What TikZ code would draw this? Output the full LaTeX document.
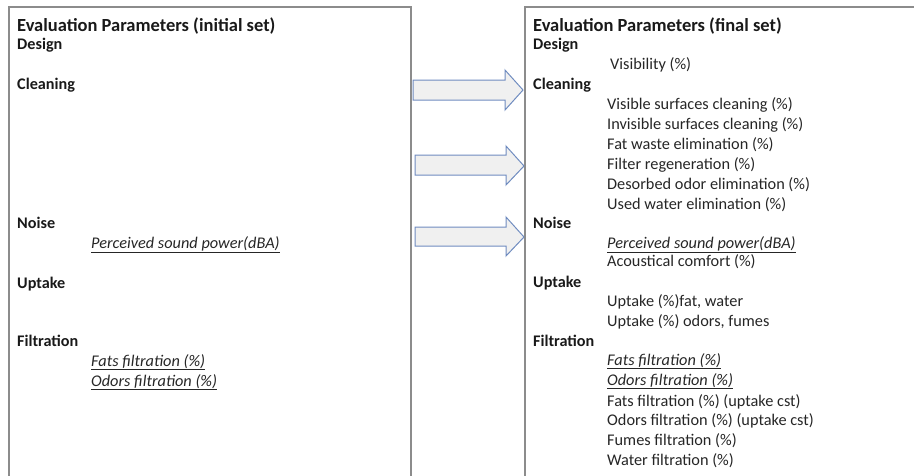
\documentclass[tikz,border=0pt]{standalone}
\usepackage{fontspec}
\setmainfont{Carlito}
\begin{document}
\begin{tikzpicture}[x=1pt,y=-1pt,
  framebox/.style={draw=black!45,line width=1.6pt},
  blockarrow/.style={draw=arrowblue,fill=black!6,line width=1pt,line join=miter},
  titletext/.style={anchor=base west,inner sep=0pt,font=\fontsize{18.5}{20}\selectfont\bfseries,text=black!90},
  headtext/.style={anchor=base west,inner sep=0pt,font=\fontsize{16.2}{19}\selectfont\bfseries,text=black!90},
  itemtext/.style={anchor=base west,inner sep=0pt,font=\fontsize{16.3}{19}\selectfont,text=black!85},
  ultext/.style={anchor=base west,inner sep=0pt,font=\fontsize{16.3}{19}\selectfont\itshape,text=black!85}]
\definecolor{arrowblue}{HTML}{6F8CC0}
\useasboundingbox (0,0) rectangle (914,475);
% frames
\draw[framebox] (9,478) -- (9,7) -- (411,7) -- (411,478);
\draw[framebox] (525,478) -- (525,7) -- (918,7);
% block arrows
\draw[blockarrow] (413,80) -- (505,80) -- (505,70) -- (523,90) -- (505,110) -- (505,100) -- (413,100) -- cycle;
\draw[blockarrow] (415,155) -- (506,155) -- (506,146) -- (524,166) -- (506,185) -- (506,175) -- (415,175) -- cycle;
\draw[blockarrow] (415,227) -- (506,227) -- (506,217) -- (524,237) -- (506,256) -- (506,246) -- (415,246) -- cycle;
% left box
\node[titletext] (lt) at (17,31) {Evaluation Parameters (initial set)};
\node[headtext] (ld) at (17,49) {Design};
\node[headtext] (lc) at (17,89) {Cleaning};
\node[headtext] (ln) at (17,228) {Noise};
\node[ultext] (lp) at (91,248) {\underline{Perceived sound power(dBA)}};
\node[headtext] (lu) at (17,288) {Uptake};
\node[headtext] (lf) at (17,346) {Filtration};
\node[ultext] (lff) at (91,366) {\underline{Fats filtration (\%)}};
\node[ultext] (lof) at (91,386) {\underline{Odors filtration (\%)}};
% right box
\node[titletext] (rt) at (533,31) {Evaluation Parameters (final set)};
\node[headtext] (rd) at (533,49) {Design};
\node[itemtext] (rv) at (610,69) {Visibility (\%)};
\node[headtext] (rc) at (533,89) {Cleaning};
\node[itemtext] (r1) at (607,109) {Visible surfaces cleaning (\%)};
\node[itemtext] (r2) at (607,129) {Invisible surfaces cleaning (\%)};
\node[itemtext] (r3) at (607,149) {Fat waste elimination (\%)};
\node[itemtext] (r4) at (607,169) {Filter regeneration (\%)};
\node[itemtext] (r5) at (607,189) {Desorbed odor elimination (\%)};
\node[itemtext] (r6) at (607,209) {Used water elimination (\%)};
\node[headtext] (rn) at (533,228) {Noise};
\node[ultext] (rp) at (607,248) {\underline{Perceived sound power(dBA)}};
\node[itemtext] (ra) at (607,266) {Acoustical comfort (\%)};
\node[headtext] (ru) at (533,287) {Uptake};
\node[itemtext] (ru1) at (607,306) {Uptake (\%)fat, water};
\node[itemtext] (ru2) at (607,326) {Uptake (\%) odors, fumes};
\node[headtext] (rf) at (533,346) {Filtration};
\node[ultext] (rf1) at (607,365) {\underline{Fats filtration (\%)}};
\node[ultext] (rf2) at (607,385) {\underline{Odors filtration (\%)}};
\node[itemtext] (rf3) at (607,406) {Fats filtration (\%) (uptake cst)};
\node[itemtext] (rf4) at (607,425) {Odors filtration (\%) (uptake cst)};
\node[itemtext] (rf5) at (607,445) {Fumes filtration (\%)};
\node[itemtext] (rf6) at (607,465) {Water filtration (\%)};
\end{tikzpicture}
\end{document}
